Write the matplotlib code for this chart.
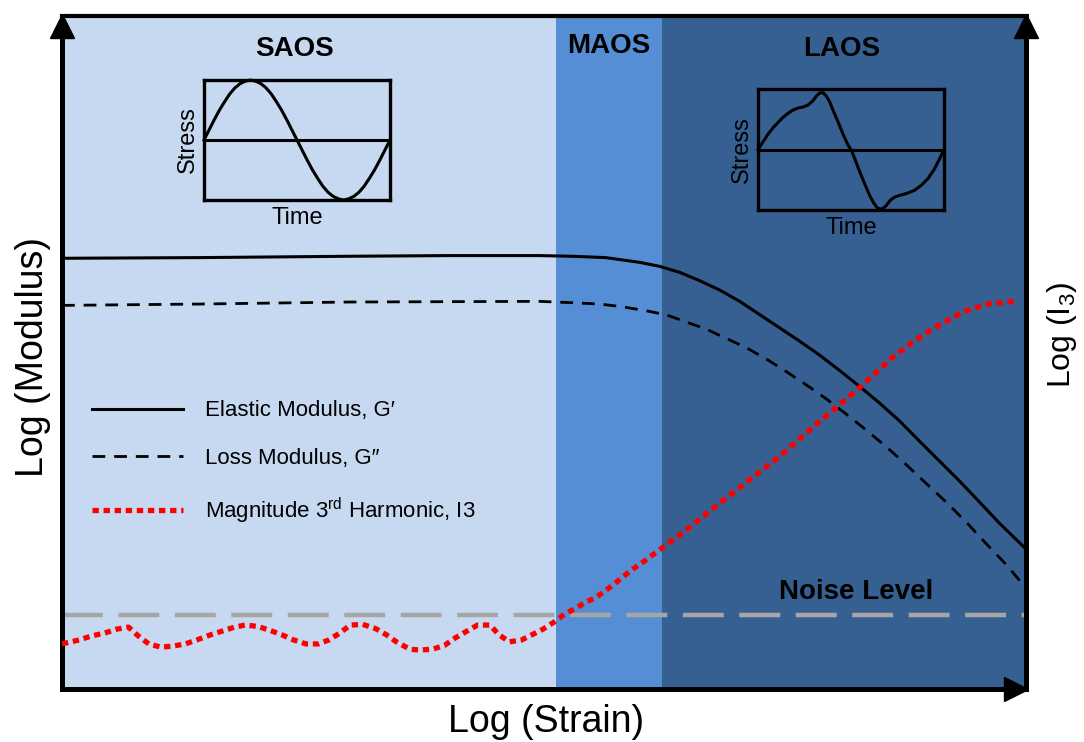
import numpy as np
import matplotlib
matplotlib.use("Agg")
import matplotlib.pyplot as plt
import matplotlib.transforms as mtransforms

plt.rcParams['font.family'] = ['Liberation Sans', 'DejaVu Sans']
plt.rcParams['mathtext.fontset'] = 'custom'
plt.rcParams['mathtext.rm'] = 'Liberation Sans'
plt.rcParams['mathtext.it'] = 'Liberation Sans:italic'
plt.rcParams['mathtext.bf'] = 'Liberation Sans:bold'
plt.rcParams['mathtext.default'] = 'regular'

# regions along log strain (0..10)
region_names = ["SAOS", "MAOS", "LAOS"]
region_edges = [0.0, 5.12, 6.22, 10.0]
region_colors = ["#C6D9F0", "#558ED5", "#376092"]

# elastic modulus G'
gp_x = [0.00, 1.43, 2.98, 4.02, 4.95, 5.29, 5.64, 5.99, 6.20, 6.41, 6.61, 6.82, 7.03,
        7.23, 7.44, 7.65, 7.86, 8.06, 8.27, 8.48, 8.69, 8.89, 9.10, 9.31, 9.51, 9.72, 10.0]
gp_y = [6.40, 6.41, 6.43, 6.44, 6.44, 6.43, 6.41, 6.34, 6.28, 6.19, 6.07, 5.93, 5.76,
        5.57, 5.37, 5.17, 4.96, 4.74, 4.50, 4.25, 3.98, 3.69, 3.39, 3.09, 2.79, 2.47, 2.08]

# loss modulus G''
gpp_x = [0.00, 1.43, 2.98, 4.95, 5.29, 5.58, 5.81, 6.06, 6.27, 6.48, 6.68, 6.89, 7.10,
         7.31, 7.51, 7.72, 7.93, 8.13, 8.34, 8.55, 8.76, 8.96, 9.17, 9.38, 9.58, 9.80, 10.0]
gpp_y = [5.70, 5.72, 5.75, 5.76, 5.74, 5.72, 5.68, 5.62, 5.56, 5.45, 5.35, 5.21, 5.07,
         4.90, 4.72, 4.52, 4.31, 4.09, 3.85, 3.60, 3.33, 3.06, 2.78, 2.48, 2.17, 1.84, 1.50]

# magnitude of 3rd harmonic I3
i3_x = [0.00, 0.18, 0.31, 0.44, 0.57, 0.69, 0.79, 0.90, 1.03, 1.16, 1.28, 1.40, 1.53, 1.66,
        1.79, 1.90, 2.03, 2.16, 2.29, 2.40, 2.53, 2.66, 2.77, 2.88, 2.99, 3.12, 3.25, 3.36,
        3.47, 3.61, 3.71, 3.84, 3.97, 4.08, 4.20, 4.31, 4.44, 4.53, 4.64, 4.77, 4.88, 4.99,
        5.10, 5.21, 5.33, 5.43, 5.54, 5.72, 5.89, 6.05, 6.20, 6.41, 6.61, 6.82, 7.03, 7.23,
        7.44, 7.63, 7.82, 8.02, 8.22, 8.42, 8.61, 8.82, 9.03, 9.20, 9.36, 9.60, 9.88]
i3_y = [0.67, 0.73, 0.79, 0.83, 0.89, 0.92, 0.79, 0.67, 0.62, 0.64, 0.67, 0.73, 0.80, 0.86,
        0.92, 0.95, 0.93, 0.87, 0.80, 0.73, 0.67, 0.67, 0.73, 0.83, 0.95, 0.96, 0.90, 0.81,
        0.70, 0.59, 0.58, 0.59, 0.65, 0.76, 0.86, 0.95, 0.95, 0.81, 0.70, 0.73, 0.81, 0.89,
        0.99, 1.11, 1.20, 1.29, 1.36, 1.55, 1.75, 1.91, 2.07, 2.29, 2.52, 2.76, 2.99, 3.22,
        3.45, 3.69, 3.93, 4.17, 4.41, 4.67, 4.92, 5.15, 5.35, 5.49, 5.61, 5.72, 5.76]

noise_level = 1.10

# inset waveforms (time 0..1, stress -1..1)
saos_t = np.linspace(0, 1, 37)
saos_s = [0, .17, .34, .5, .64, .77, .87, .94, .98, 1, .98, .94, .87, .77, .64, .5, .34, .17,
          0, -.17, -.34, -.5, -.64, -.77, -.87, -.94, -.98, -1, -.98, -.94, -.87, -.77,
          -.64, -.5, -.34, -.17, 0]
laos_t = [0, .027, .054, .081, .108, .134, .161, .188, .215, .242, .269, .296, .314, .332,
          .349, .367, .385, .403, .430, .457, .484, .502, .520, .547, .573, .600, .622, .642,
          .663, .686, .711, .735, .762, .797, .842, .878, .914, .950, .977, 1.0]
laos_s = [0, .127, .254, .359, .448, .530, .597, .652, .685, .702, .735, .807, .884, .934,
          .939, .884, .790, .652, .459, .254, .072, -.011, -.149, -.370, -.564, -.757, -.884,
          -.967, -.989, -.939, -.840, -.785, -.757, -.729, -.674, -.591, -.481, -.315, -.149, 0]

W, H = 1084, 742
fig = plt.figure(figsize=(W / 100, H / 100), dpi=100)
ax = fig.add_axes([62 / W, (H - 689) / H, (1026 - 62) / W, (689 - 16) / H])
ax.set_xlim(0, 10)
ax.set_ylim(0, 10)

for i in range(3):
    ax.axvspan(region_edges[i], region_edges[i + 1], color=region_colors[i], lw=0, zorder=0)

ax.axhline(noise_level, color="#A6A6A6", lw=3.2, ls=(0, (9.2, 3.5)), zorder=2)
ax.plot(gp_x, gp_y, color="black", lw=2.2, label="Elastic Modulus, G\u2032", zorder=3)
ax.plot(gpp_x, gpp_y, color="black", lw=2.0, ls=(0, (4.6, 3.2)),
        label="Loss Modulus, G\u2033", zorder=3)
ax.plot(i3_x, i3_y, color="#FF0000", lw=3.8, ls=(0, (1.2, 0.9)),
        label="Magnitude 3$^{rd}$ Harmonic, I3", zorder=4)

ax.set_xticks([])
ax.set_yticks([])
for s in ["left", "bottom", "right"]:
    ax.spines[s].set_linewidth(3.6)
ax.spines["top"].set_linewidth(3)

# axis arrows
off_down = mtransforms.offset_copy(ax.transAxes, fig=fig, x=0, y=-7.5, units="points")
ax.plot([0, 1], [1, 1], ls="none", marker="^", ms=17, color="black",
        transform=off_down, clip_on=False, zorder=10)
off_left = mtransforms.offset_copy(ax.transAxes, fig=fig, x=-7.5, y=0, units="points")
ax.plot([1], [0], ls="none", marker=">", ms=17, color="black",
        transform=off_left, clip_on=False, zorder=10)

# region titles
ax.text(2.41, 9.51, "SAOS", fontsize=20, fontweight="bold", ha="center", va="center")
ax.text(5.67, 9.56, "MAOS", fontsize=20, fontweight="bold", ha="center", va="center")
ax.text(8.09, 9.51, "LAOS", fontsize=20, fontweight="bold", ha="center", va="center")
ax.text(8.24, 1.44, "Noise Level", fontsize=20, fontweight="bold", ha="center", va="center")

ax.legend(loc="upper left", bbox_to_anchor=(0.031, 0.429), frameon=False, fontsize=16,
          handlelength=4.1, handletextpad=1.0, labelspacing=1.2, borderpad=0, borderaxespad=0)

# axis labels
fig.text(33 / W, 1 - 357 / H, "Log (Modulus)", fontsize=27, rotation=90, ha="center", va="center")
fig.text(546 / W, 1 - 722 / H, "Log (Strain)", fontsize=27, ha="center", va="center")
fig.text(1062 / W, 1 - 335 / H, "Log (I$_3$)", fontsize=23, rotation=90, ha="center", va="center")

# inset waveforms
def inset(rect, t, s):
    a = fig.add_axes(rect)
    a.set_facecolor("none")
    a.plot(t, s, color="black", lw=2.2, clip_on=False)
    a.axhline(0, color="black", lw=2.2)
    a.set_xlim(0, 1)
    a.set_ylim(-1, 1)
    a.set_xticks([])
    a.set_yticks([])
    for sp in a.spines.values():
        sp.set_linewidth(2.4)
    a.set_xlabel("Time", fontsize=17, labelpad=5)
    a.set_ylabel("Stress", fontsize=17, labelpad=4)
    return a

inset([204 / W, (H - 200) / H, 186 / W, 120 / H], saos_t, saos_s)
inset([758 / W, (H - 210) / H, 186 / W, 121 / H], laos_t, laos_s)

fig.savefig("out.png", dpi=100)
